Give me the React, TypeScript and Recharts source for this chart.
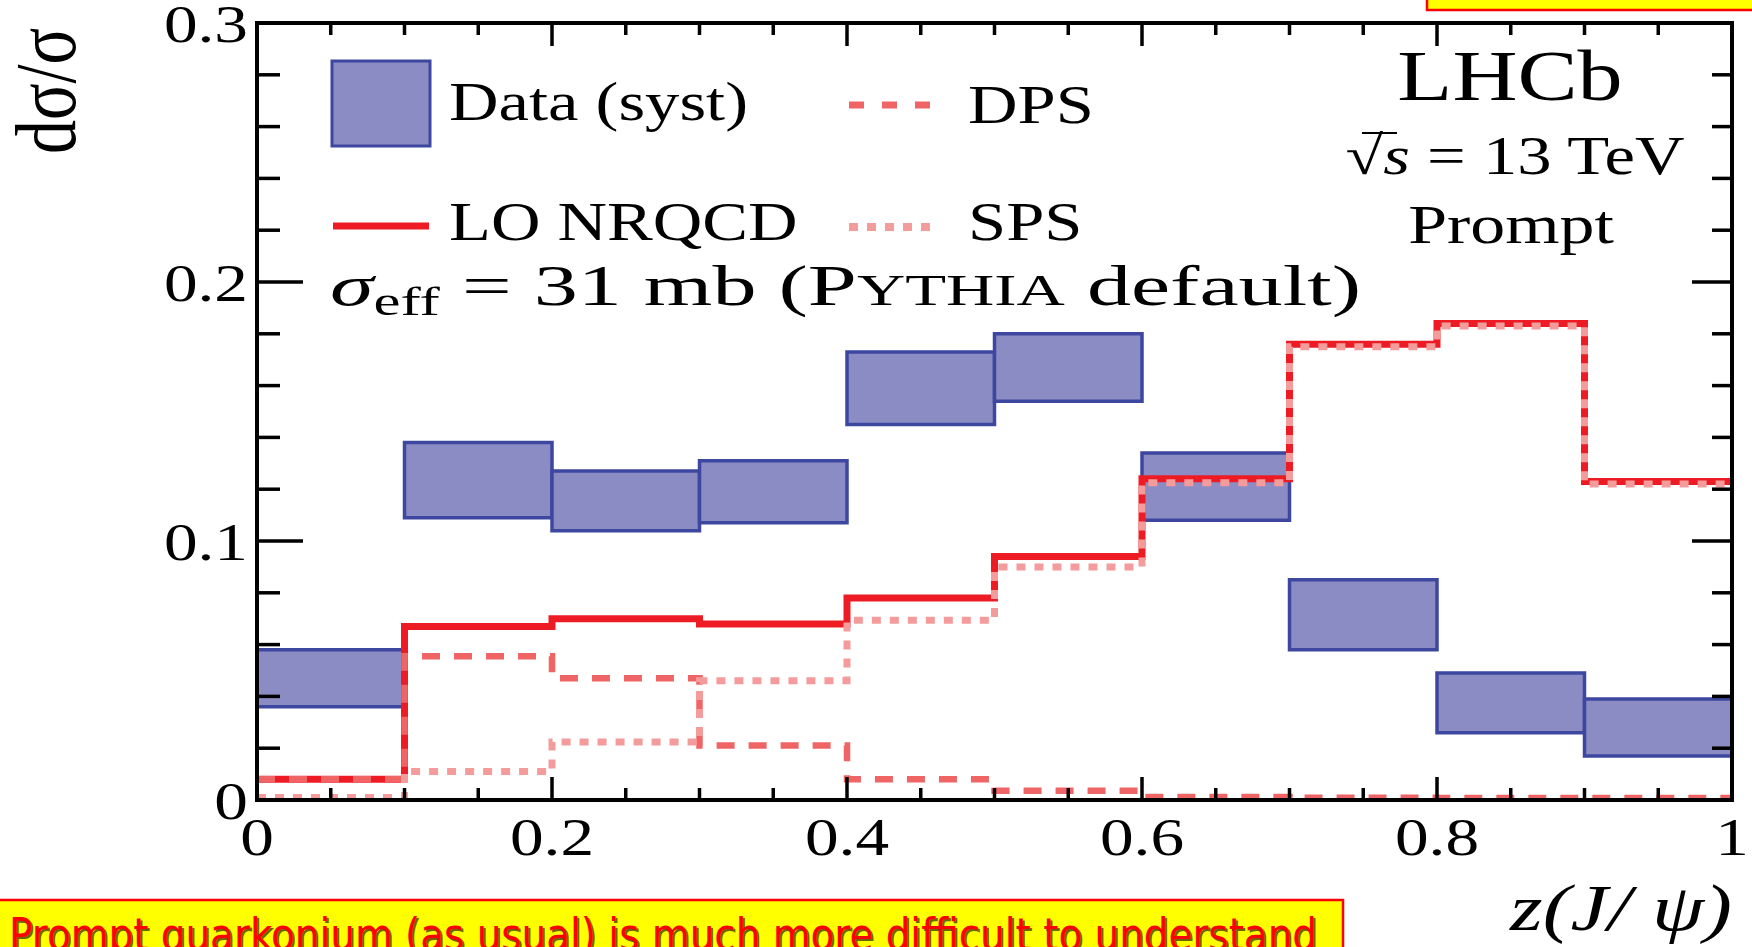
import React from "react";
import { ComposedChart, Line, XAxis, YAxis, ReferenceArea } from "recharts";

// z(J/psi) bins
const binEdges = [0, 0.1, 0.2, 0.3, 0.4, 0.5, 0.6, 0.7, 0.8, 0.9, 1.0];

// data (syst) boxes, low/high edge per bin
const dataLow = [0.036, 0.109, 0.104, 0.107, 0.145, 0.154, 0.108, 0.058, 0.026, 0.017];
const dataHigh = [0.058, 0.138, 0.127, 0.131, 0.173, 0.18, 0.134, 0.085, 0.049, 0.039];

// theory histograms, one value per bin
const nrqcd = [0.008, 0.067, 0.07, 0.068, 0.078, 0.094, 0.124, 0.176, 0.184, 0.123];
const dps = [0.008, 0.0555, 0.047, 0.021, 0.008, 0.0036, 0.0012, 0.0009, 0.0008, 0.0008];
const sps = [0.001, 0.011, 0.0224, 0.046, 0.0694, 0.09, 0.1225, 0.175, 0.183, 0.122];

const xTicks = [0, 0.05, 0.1, 0.15, 0.2, 0.25, 0.3, 0.35, 0.4, 0.45, 0.5, 0.55, 0.6, 0.65, 0.7, 0.75, 0.8, 0.85, 0.9, 0.95, 1];
const xMajorTicks = [0, 0.2, 0.4, 0.6, 0.8, 1];
const xTickLabels = ["0", "0.2", "0.4", "0.6", "0.8", "1"];
const yTicks = [0, 0.02, 0.04, 0.06, 0.08, 0.1, 0.12, 0.14, 0.16, 0.18, 0.2, 0.22, 0.24, 0.26, 0.28, 0.3];
const yMajorTicks = [0, 0.1, 0.2, 0.3];
const yTickLabels = ["0", "0.1", "0.2", "0.3"];

// last edge repeats the last bin so stepAfter closes the histogram
const stepRows = binEdges.map((z, i) => {
  const j = Math.min(i, nrqcd.length - 1);
  return { z, nrqcd: nrqcd[j], dps: dps[j], sps: sps[j] };
});

const W = 1752;
const H = 947;
const SX = 1.27; // the original figure is stretched sideways
const SERIF = '"Liberation Serif", "Times New Roman", serif';
const RED = "#ed1c24";
const DPS_COLOR = "#ef6565";
const SPS_COLOR = "#f49c9c";
const BOX_FILL = "#8c8cc4";
const BOX_STROKE = "#3d47a0";

function majorIndex(v: number, majors: number[]) {
  return majors.findIndex((m) => Math.abs(m - v) < 1e-6);
}

function BottomTick({ x, y, payload }: any) {
  const i = majorIndex(payload.value, xMajorTicks);
  return (
    <g>
      <line x1={x} y1={y} x2={x} y2={y - (i >= 0 ? 23 : 12)} stroke="#000" strokeWidth={3.5} />
      {i >= 0 && (
        <text transform={`translate(${x},${y + 55}) scale(${SX},1)`} textAnchor="middle" fontFamily={SERIF} fontSize={53} fill="#000">
          {xTickLabels[i]}
        </text>
      )}
    </g>
  );
}

function TopTick({ x, y, payload }: any) {
  const major = majorIndex(payload.value, xMajorTicks) >= 0;
  return <line x1={x} y1={y} x2={x} y2={y + (major ? 23 : 12)} stroke="#000" strokeWidth={3.5} />;
}

function LeftTick({ x, y, payload }: any) {
  const i = majorIndex(payload.value, yMajorTicks);
  return (
    <g>
      <line x1={x} y1={y} x2={x + (i >= 0 ? 46 : 23)} y2={y} stroke="#000" strokeWidth={3.5} />
      {i >= 0 && (
        <text transform={`translate(${x - 9},${y + 19}) scale(${SX},1)`} textAnchor="end" fontFamily={SERIF} fontSize={53} fill="#000">
          {yTickLabels[i]}
        </text>
      )}
    </g>
  );
}

function RightTick({ x, y, payload }: any) {
  const major = majorIndex(payload.value, yMajorTicks) >= 0;
  return <line x1={x} y1={y} x2={x - (major ? 40 : 20)} y2={y} stroke="#000" strokeWidth={3.5} />;
}

const axisLine = { stroke: "#000", strokeWidth: 4, strokeLinecap: "square" as const };

function Annotations() {
  const t = (x: number, y: number, s = SX) => `translate(${x},${y}) scale(${s},1)`;
  return (
    <svg width={W} height={H} style={{ position: "absolute", left: 0, top: 0, pointerEvents: "none" }}>
      {/* legend */}
      <rect x={332} y={61} width={98} height={85} fill={BOX_FILL} stroke={BOX_STROKE} strokeWidth={3} />
      <text transform={t(449, 120)} fontFamily={SERIF} fontSize={54}>Data (syst)</text>
      <line x1={849} y1={105} x2={933} y2={105} stroke={DPS_COLOR} strokeWidth={7} strokeDasharray="15 18" />
      <text transform={t(968, 123)} fontFamily={SERIF} fontSize={54}>DPS</text>
      <line x1={333} y1={226} x2={429} y2={226} stroke={RED} strokeWidth={7} />
      <text transform={t(449, 240)} fontFamily={SERIF} fontSize={54}>LO NRQCD</text>
      <line x1={849} y1={227} x2={939} y2={227} stroke={SPS_COLOR} strokeWidth={8} strokeDasharray="9 9" />
      <text transform={t(968, 240)} fontFamily={SERIF} fontSize={54}>SPS</text>
      <text transform={t(330, 305, 1.52)} fontFamily={SERIF} fontSize={58}>
        <tspan fontStyle="italic">σ</tspan>
        <tspan fontSize={40} dy={10}>eff</tspan>
        <tspan dy={-10}>{" = 31 mb (P"}</tspan>
        <tspan fontSize={44}>YTHIA</tspan>
        <tspan>{" default)"}</tspan>
      </text>

      {/* experiment label */}
      <text transform={t(1510, 100)} textAnchor="middle" fontFamily={SERIF} fontSize={71}>LHCb</text>
      <text transform={t(1515, 174)} textAnchor="middle" fontFamily={SERIF} fontSize={54}>
        <tspan>√</tspan>
        <tspan fontStyle="italic">s</tspan>
        <tspan>{" = 13 TeV"}</tspan>
      </text>
      <line x1={1362} y1={133} x2={1397} y2={133} stroke="#000" strokeWidth={2} />
      <text transform={t(1511, 243)} textAnchor="middle" fontFamily={SERIF} fontSize={55}>Prompt</text>

      {/* axis titles */}
      <text transform={`translate(75,91) scale(${SX},1) rotate(-90)`} textAnchor="middle" fontFamily={SERIF} fontSize={68}>dσ/σ</text>
      <text transform={t(1732, 930)} textAnchor="end" fontFamily={SERIF} fontStyle="italic" fontSize={66}>{"z(J/ ψ)"}</text>

      {/* slide overlays */}
      <rect x={1427} y={-4} width={340} height={14} fill="#ffff00" stroke="#ff0000" strokeWidth={2.5} />
      <rect x={-4} y={900} width={1347} height={60} fill="#ffff00" stroke="#ff0000" strokeWidth={2.5} />
      <text x={11} y={952} fontFamily='"DejaVu Sans", sans-serif' fontSize={44} fill="#6e6400" textLength={1308} lengthAdjust="spacingAndGlyphs">
        Prompt quarkonium (as usual) is much more difficult to understand
      </text>
      <text x={9} y={950} fontFamily='"DejaVu Sans", sans-serif' fontSize={44} fill="#ff0000" textLength={1308} lengthAdjust="spacingAndGlyphs">
        Prompt quarkonium (as usual) is much more difficult to understand
      </text>
    </svg>
  );
}

export default function App() {
  return (
    <div style={{ position: "absolute", left: 0, top: 0, width: W, height: H, background: "#fff", overflow: "hidden" }}>
      <ComposedChart width={W} height={H} data={stepRows} margin={{ top: 22, right: 19, bottom: 0, left: 0 }}>
        <XAxis
          dataKey="z"
          type="number"
          domain={[0, 1]}
          ticks={xTicks}
          interval={0}
          height={147}
          tickSize={0}
          tickMargin={0}
          axisLine={axisLine}
          tickLine={false}
          tick={<BottomTick />}
          allowDataOverflow
        />
        <XAxis
          xAxisId="top"
          orientation="top"
          dataKey="z"
          type="number"
          domain={[0, 1]}
          ticks={xTicks}
          interval={0}
          height={1}
          tickSize={0}
          tickMargin={0}
          axisLine={axisLine}
          tickLine={false}
          tick={<TopTick />}
          allowDataOverflow
        />
        <YAxis
          type="number"
          domain={[0, 0.3]}
          ticks={yTicks}
          interval={0}
          width={257}
          tickSize={0}
          tickMargin={0}
          axisLine={axisLine}
          tickLine={false}
          tick={<LeftTick />}
          allowDataOverflow
        />
        <YAxis
          yAxisId="right"
          orientation="right"
          type="number"
          domain={[0, 0.3]}
          ticks={yTicks}
          interval={0}
          width={1}
          tickSize={0}
          tickMargin={0}
          axisLine={axisLine}
          tickLine={false}
          tick={<RightTick />}
          allowDataOverflow
        />
        {dataLow.map((lo, i) => (
          <ReferenceArea
            key={i}
            x1={binEdges[i]}
            x2={binEdges[i + 1]}
            y1={lo}
            y2={dataHigh[i]}
            fill={BOX_FILL}
            fillOpacity={1}
            stroke={BOX_STROKE}
            strokeWidth={3.5}
            ifOverflow="visible"
          />
        ))}
        <Line dataKey="nrqcd" type="stepAfter" stroke={RED} strokeWidth={7} dot={false} activeDot={false} isAnimationActive={false} />
        <Line dataKey="dps" type="stepAfter" stroke={DPS_COLOR} strokeWidth={6.5} strokeDasharray="18 14" dot={false} activeDot={false} isAnimationActive={false} />
        <Line dataKey="sps" type="stepAfter" stroke={SPS_COLOR} strokeWidth={7} strokeDasharray="9 9" dot={false} activeDot={false} isAnimationActive={false} />
      </ComposedChart>
      <Annotations />
    </div>
  );
}
